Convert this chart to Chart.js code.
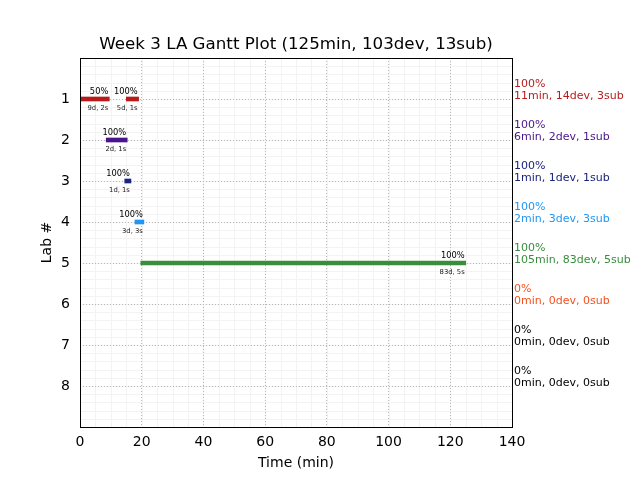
<!DOCTYPE html>
<html><head><meta charset="utf-8">
<script src="https://cdn.jsdelivr.net/npm/chart.js@4.4.1/dist/chart.umd.min.js"></script>
<style>html,body{margin:0;padding:0;background:#fff}</style>
</head><body>
<canvas id="c" width="640" height="480"></canvas>
<script>
// ---- data ----
const chartTitle = 'Week 3 LA Gantt Plot (125min, 103dev, 13sub)';
const labNumbers = [1, 2, 3, 4, 5, 6, 7, 8];
const labColors = ['#b71c1c', '#4a148c', '#1a237e', '#2196f3', '#388e3c', '#f4511e', '#000000', '#000000'];
const labPercent = ['100%', '100%', '100%', '100%', '100%', '0%', '0%', '0%'];
const labSummary = ['11min, 14dev, 3sub', '6min, 2dev, 1sub', '1min, 1dev, 1sub', '2min, 3dev, 3sub',
  '105min, 83dev, 5sub', '0min, 0dev, 0sub', '0min, 0dev, 0sub', '0min, 0dev, 0sub'];
const segLab = [1, 1, 2, 3, 4, 5];
const segStart = [0, 15, 8.5, 14.5, 17.8, 19.7];
const segEnd = [9.5, 19, 15.3, 16.5, 20.7, 125];
const segPercent = ['50%', '100%', '100%', '100%', '100%', '100%'];
const segDetail = ['9d, 2s', '5d, 1s', '2d, 1s', '1d, 1s', '3d, 3s', '83d, 5s'];
const xTickValues = [0, 20, 40, 60, 80, 100, 120, 140];

const FONT = 'DejaVu Sans';

const datasets = labNumbers.map((lab, i) => {
  const data = [];
  segLab.forEach((l, k) => {
    if (l === lab) data.push({ x: [segStart[k], segEnd[k]], y: lab, pct: segPercent[k], det: segDetail[k] });
  });
  return {
    label: 'Lab ' + lab,
    data: data,
    backgroundColor: labColors[i],
    borderWidth: 0,
    barThickness: 4,
    grouped: false
  };
});

const decorPlugin = {
  id: 'decor',
  beforeDraw(chart) {
    const { ctx, chartArea: a, scales } = chart;
    ctx.save();
    ctx.strokeStyle = '#f3f3f3';
    ctx.lineWidth = 1;
    for (let v = 0; v <= 140; v += 5) {
      const px = Math.round(scales.x.getPixelForValue(v)) + 0.5;
      ctx.beginPath(); ctx.moveTo(px, a.top); ctx.lineTo(px, a.bottom); ctx.stroke();
    }
    for (let k = 0; k <= 45; k++) {
      const py = Math.round(scales.y.getPixelForValue(k * 0.2)) + 0.5;
      ctx.beginPath(); ctx.moveTo(a.left, py); ctx.lineTo(a.right, py); ctx.stroke();
    }
    // title
    ctx.fillStyle = '#000';
    ctx.textAlign = 'center';
    ctx.textBaseline = 'middle';
    ctx.font = '16.7px "' + FONT + '"';
    ctx.fillText(chartTitle, (a.left + a.right) / 2, 45);
    ctx.restore();
  },
  afterDatasetsDraw(chart) {
    const { ctx, chartArea: a, scales } = chart;
    ctx.save();
    // bar labels
    chart.data.datasets.forEach((ds, di) => {
      const meta = chart.getDatasetMeta(di);
      meta.data.forEach((el, j) => {
        const raw = ds.data[j];
        const xEnd = scales.x.getPixelForValue(raw.x[1]);
        const yc = el.y;
        ctx.fillStyle = '#000';
        ctx.textAlign = 'right';
        ctx.textBaseline = 'middle';
        ctx.font = '8.3px "' + FONT + '"';
        ctx.fillText(raw.pct, xEnd - 1, yc - 7);
        ctx.fillStyle = '#222';
        ctx.font = '6.8px "' + FONT + '"';
        ctx.fillText(raw.det, xEnd - 1, yc + 9.5);
      });
    });
    // right side summaries
    ctx.textAlign = 'left';
    ctx.textBaseline = 'middle';
    ctx.font = '11px "' + FONT + '"';
    labNumbers.forEach((lab, i) => {
      const py = scales.y.getPixelForValue(lab);
      ctx.fillStyle = labColors[i];
      ctx.fillText(labPercent[i], a.right + 2, py - 15);
      ctx.fillText(labSummary[i], a.right + 2, py - 3);
    });
    // frame
    ctx.strokeStyle = '#000';
    ctx.lineWidth = 1;
    ctx.strokeRect(Math.round(a.left) + 0.5, Math.round(a.top) + 0.5, Math.round(a.right - a.left), Math.round(a.bottom - a.top));
    ctx.restore();
  }
};

const gridColor = (c) => (c.tick && (c.tick.value === 0 || c.tick.value === 140 || c.tick.value === 9)) ? 'rgba(0,0,0,0)' : '#b8b8b8';

new Chart(document.getElementById('c'), {
  type: 'bar',
  data: { datasets: datasets },
  options: {
    responsive: false,
    animation: false,
    devicePixelRatio: 1,
    indexAxis: 'y',
    layout: { padding: { left: 0, right: 128, top: 58, bottom: 0 } },
    plugins: {
      legend: { display: false },
      tooltip: { enabled: false },
      title: { display: false }
    },
    scales: {
      x: {
        type: 'linear',
        min: 0, max: 140,
        offset: false,
        afterBuildTicks: (s) => { s.ticks = xTickValues.map(v => ({ value: v })); },
        ticks: { color: '#000', font: { family: FONT, size: 14 }, padding: 7, maxRotation: 0 },
        grid: { color: gridColor, lineWidth: 1, drawTicks: false, offset: false },
        border: { display: false, dash: [1, 2] },
        title: { display: true, text: 'Time (min)', color: '#000', font: { family: FONT, size: 14 }, padding: { top: 0, bottom: 8 } },
        afterFit: (s) => { s.height = 53; }
      },
      y: {
        type: 'linear',
        reverse: true,
        min: 0, max: 9,
        offset: false,
        afterBuildTicks: (s) => { s.ticks = [0].concat(labNumbers, [9]).map(v => ({ value: v })); },
        ticks: {
          color: '#000', font: { family: FONT, size: 14 }, padding: 10,
          callback: (v) => labNumbers.includes(v) ? String(v) : ''
        },
        grid: { color: gridColor, lineWidth: 1, drawTicks: false, offset: false },
        border: { display: false, dash: [1, 2] },
        title: { display: true, text: 'Lab #', color: '#000', font: { family: FONT, size: 14 }, padding: { top: 39, bottom: 0 } },
        afterFit: (s) => { s.width = 80; }
      }
    }
  },
  plugins: [decorPlugin]
});
</script>
</body></html>
